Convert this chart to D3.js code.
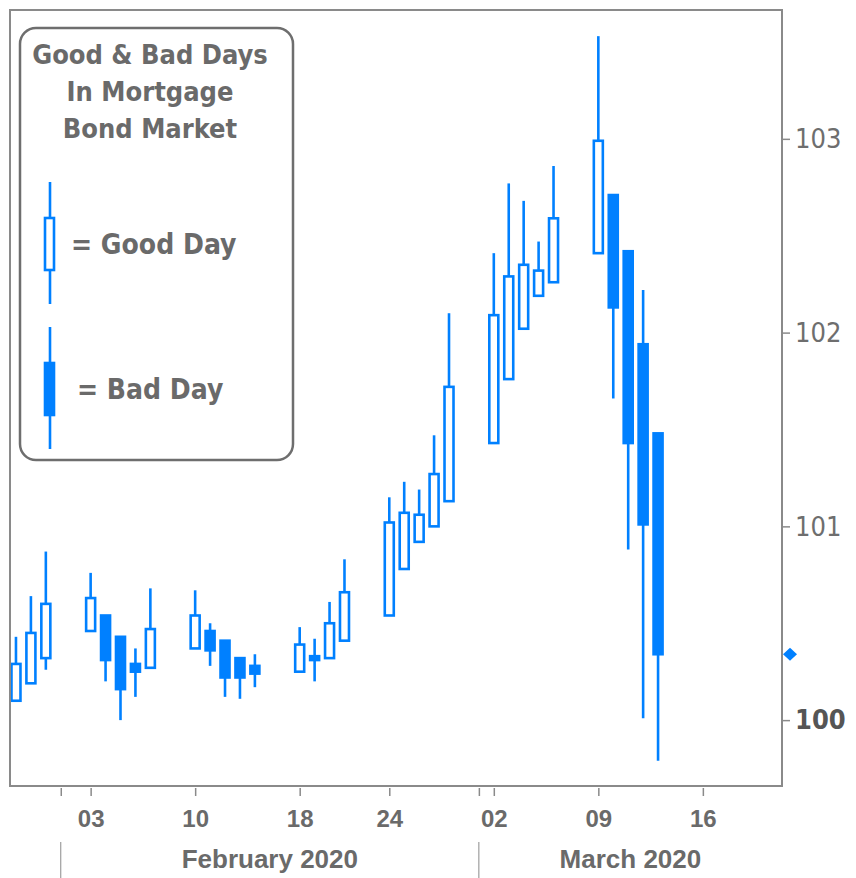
<!DOCTYPE html>
<html>
<head>
<meta charset="utf-8">
<script src="https://cdn.jsdelivr.net/npm/d3@7"></script>
<style>
  body { margin: 0; background: #fff; }
  svg { display: block; }
</style>
</head>
<body>
<svg id="chart"></svg>
<script>
// Daily OHLC for mortgage bonds
const dates = [
    '2020-01-29', '2020-01-30', '2020-01-31',
    '2020-02-03', '2020-02-04', '2020-02-05', '2020-02-06', '2020-02-07',
    '2020-02-10', '2020-02-11', '2020-02-12', '2020-02-13', '2020-02-14',
    '2020-02-18', '2020-02-19', '2020-02-20', '2020-02-21',
    '2020-02-24', '2020-02-25', '2020-02-26', '2020-02-27', '2020-02-28',
    '2020-03-02', '2020-03-03', '2020-03-04', '2020-03-05', '2020-03-06',
    '2020-03-09', '2020-03-10', '2020-03-11', '2020-03-12', '2020-03-13'
];
const opens = [
    100.10, 100.19, 100.32,
    100.46, 100.54, 100.43, 100.29, 100.27,
    100.37, 100.46, 100.41, 100.32, 100.28,
    100.25, 100.33, 100.32, 100.41,
    100.54, 100.78, 100.92, 101.00, 101.13,
    101.43, 101.76, 102.02, 102.19, 102.26,
    102.41, 102.71, 102.42, 101.94, 101.48
];
const highs = [
    100.43, 100.64, 100.87,
    100.76, 100.54, 100.43, 100.37, 100.68,
    100.67, 100.50, 100.41, 100.32, 100.34,
    100.48, 100.42, 100.61, 100.83,
    101.15, 101.23, 101.19, 101.47, 102.10,
    102.41, 102.77, 102.68, 102.47, 102.86,
    103.53, 102.71, 102.42, 102.22, 101.48
];
const lows = [
    100.10, 100.19, 100.26,
    100.46, 100.20, 100.00, 100.12, 100.27,
    100.37, 100.28, 100.12, 100.11, 100.17,
    100.25, 100.20, 100.32, 100.41,
    100.54, 100.78, 100.92, 101.00, 101.13,
    101.43, 101.76, 102.02, 102.19, 102.26,
    102.41, 101.66, 100.88, 100.01, 99.79
];
const closes = [
    100.29, 100.45, 100.60,
    100.63, 100.31, 100.16, 100.25, 100.47,
    100.54, 100.36, 100.22, 100.22, 100.24,
    100.39, 100.31, 100.50, 100.66,
    101.02, 101.07, 101.06, 101.27, 101.72,
    102.09, 102.29, 102.35, 102.32, 102.59,
    102.99, 102.13, 101.43, 101.01, 100.34
];

// Axis labels
const yTicks = [100, 101, 102, 103];
const xTickDates = ['2020-02-03', '2020-02-10', '2020-02-18', '2020-02-24', '2020-03-02', '2020-03-09', '2020-03-16'];
const monthStarts = ['2020-02-01', '2020-03-01'];
const monthLabels = ['February 2020', 'March 2020'];
const holidays = ['2020-02-17'];   // market closed, dropped from the axis
const legendTitle = ['Good & Bad Days', 'In Mortgage', 'Bond Market'];

const width = 856;
const height = 878;
const blue = '#0080ff';
const grey = '#6a6a6a';
const frame = { left: 10, top: 10, right: 782, bottom: 786 };

const parse = d3.utcParse('%Y-%m-%d');
const start = parse(dates[0]);
const skipped = holidays.map(parse);

// Calendar day position, with market holidays squeezed out
function dayIndex(s) {
    const d = parse(s);
    return d3.utcDay.count(start, d) - skipped.filter(h => h < d).length;
}

const candles = dates.map((d, i) => ({
    date: d,
    open: opens[i], high: highs[i], low: lows[i], close: closes[i],
    good: closes[i] >= opens[i]
}));

const svg = d3.select('#chart')
    .attr('width', width)
    .attr('height', height);

const x = d3.scaleLinear()
    .domain([-0.4, 51.3])
    .range([frame.left, frame.right]);

const y = d3.scaleLinear()
    .domain([99.66, 103.665])
    .range([frame.bottom, frame.top]);

svg.append('defs').append('clipPath')
    .attr('id', 'plot-clip')
    .append('rect')
    .attr('x', frame.left)
    .attr('y', frame.top)
    .attr('width', frame.right - frame.left)
    .attr('height', frame.bottom - frame.top);

// Candles
const bodyW = 9;
const plot = svg.append('g').attr('clip-path', 'url(#plot-clip)');

const c = plot.selectAll('g.candle')
    .data(candles)
    .enter()
    .append('g')
    .attr('class', 'candle');

c.append('line')
    .attr('x1', d => x(dayIndex(d.date)))
    .attr('x2', d => x(dayIndex(d.date)))
    .attr('y1', d => y(d.high))
    .attr('y2', d => y(d.low))
    .attr('stroke', blue)
    .attr('stroke-width', 2.6);

c.append('rect')
    .attr('x', d => x(dayIndex(d.date)) - bodyW / 2)
    .attr('y', d => y(Math.max(d.open, d.close)))
    .attr('width', bodyW)
    .attr('height', d => Math.max(1, Math.abs(y(d.open) - y(d.close))))
    .attr('fill', d => d.good ? '#fff' : blue)
    .attr('stroke', blue)
    .attr('stroke-width', 2.6);

// Plot frame
svg.append('rect')
    .attr('x', frame.left)
    .attr('y', frame.top)
    .attr('width', frame.right - frame.left)
    .attr('height', frame.bottom - frame.top)
    .attr('fill', 'none')
    .attr('stroke', '#8a8a8a')
    .attr('stroke-width', 2);

// Right value axis
const yAxis = svg.append('g')
    .attr('transform', `translate(${frame.right},0)`)
    .call(d3.axisRight(y).tickValues(yTicks).tickSize(8).tickPadding(5).tickFormat(d3.format('d')));
yAxis.select('.domain').remove();
yAxis.selectAll('line').attr('stroke', '#8a8a8a').attr('stroke-width', 1.5);
yAxis.selectAll('text')
    .attr('fill', d => d === 100 ? '#555' : '#6e6e6e')
    .attr('font-family', '"DejaVu Sans Condensed", "DejaVu Sans", sans-serif')
    .attr('font-weight', d => d === 100 ? 'bold' : 'normal')
    .attr('font-size', 27);

// Last close marker
svg.append('path')
    .attr('d', 'M0,-6.5L7,0L0,6.5L-7,0Z')
    .attr('transform', `translate(${frame.right + 8},${y(closes[closes.length - 1])})`)
    .attr('fill', blue);

// Bottom date axis
const xAxis = svg.append('g')
    .attr('transform', `translate(0,${frame.bottom + 2})`)
    .call(d3.axisBottom(x)
        .tickValues(xTickDates.map(dayIndex))
        .tickSize(8)
        .tickFormat((d, i) => xTickDates[i].slice(8)));
xAxis.select('.domain').remove();
xAxis.selectAll('line').attr('stroke', '#8a8a8a').attr('stroke-width', 1.5);
xAxis.selectAll('text')
    .attr('y', 39)
    .attr('dy', 0)
    .attr('fill', grey)
    .attr('font-family', '"Liberation Sans", Arial, sans-serif')
    .attr('font-weight', 'bold')
    .attr('font-size', 24);

const mAxis = svg.append('g')
    .attr('transform', `translate(0,${frame.bottom + 2})`)
    .call(d3.axisBottom(x).tickValues(monthStarts.map(dayIndex)).tickSize(8).tickFormat(''));
mAxis.select('.domain').remove();
mAxis.selectAll('line').attr('stroke', '#8a8a8a').attr('stroke-width', 1.5);

// Month bands
const mx = monthStarts.map(dayIndex).map(x);
svg.selectAll('line.month-sep')
    .data(mx)
    .enter()
    .append('line')
    .attr('class', 'month-sep')
    .attr('x1', d => d).attr('x2', d => d)
    .attr('y1', 842).attr('y2', height)
    .attr('stroke', '#8a8a8a')
    .attr('stroke-width', 1);

svg.selectAll('text.month')
    .data(monthLabels)
    .enter()
    .append('text')
    .attr('class', 'month')
    .attr('x', (d, i) => (mx[i] + (i + 1 < mx.length ? mx[i + 1] : frame.right)) / 2)
    .attr('y', 868)
    .attr('text-anchor', 'middle')
    .attr('fill', grey)
    .attr('font-family', '"Liberation Sans", Arial, sans-serif')
    .attr('font-weight', 'bold')
    .attr('font-size', 26)
    .text(d => d);

// Legend box
const legend = svg.append('g');
legend.append('rect')
    .attr('x', 20).attr('y', 28)
    .attr('width', 273).attr('height', 432)
    .attr('rx', 16)
    .attr('fill', '#fff')
    .attr('stroke', '#6e6e6e')
    .attr('stroke-width', 2.5);

legend.selectAll('text.title')
    .data(legendTitle)
    .enter()
    .append('text')
    .attr('class', 'title')
    .attr('x', 150)
    .attr('y', (d, i) => 64 + i * 37)
    .attr('text-anchor', 'middle')
    .attr('fill', grey)
    .attr('font-family', '"DejaVu Sans Condensed", "DejaVu Sans", sans-serif')
    .attr('font-weight', 'bold')
    .attr('font-size', 27)
    .text(d => d);

// Legend sample candles
function sample(cy, filled, label, tx) {
    legend.append('line')
        .attr('x1', 50).attr('x2', 50)
        .attr('y1', cy - 62).attr('y2', cy + 60)
        .attr('stroke', blue).attr('stroke-width', 2.6);
    legend.append('rect')
        .attr('x', 45).attr('y', cy - 26)
        .attr('width', 9).attr('height', 52)
        .attr('fill', filled ? blue : '#fff')
        .attr('stroke', blue).attr('stroke-width', 2.6);
    legend.append('text')
        .attr('x', tx).attr('y', cy + 10)
        .attr('fill', grey)
        .attr('font-family', '"DejaVu Sans Condensed", "DejaVu Sans", sans-serif')
        .attr('font-weight', 'bold')
        .attr('font-size', 28)
        .text(label);
}
sample(244, false, '= Good Day', 71);
sample(389, true, '= Bad Day', 77);
</script>
</body>
</html>
